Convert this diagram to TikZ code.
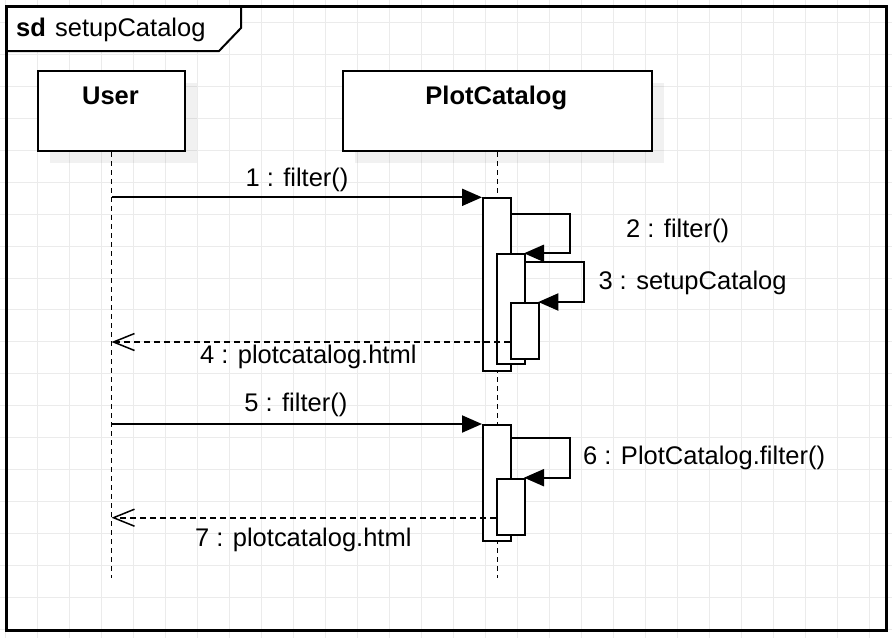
\documentclass[tikz,border=0pt]{standalone}
\usepackage{fontspec}
\setmainfont{Liberation Sans}
\usetikzlibrary{arrows.meta}
\definecolor{gridgray}{HTML}{EBEBEB}
\begin{document}
\begin{tikzpicture}[x=1pt,y=-1pt,
  every node/.style={font=\fontsize{25.5}{30}\selectfont, inner sep=0pt},
  gridline/.style={draw=gridgray, line width=1pt},
  headbox/.style={draw=black, fill=white, line width=2pt, rectangle, inner sep=0pt, anchor=north west},
  shadowbox/.style={fill=black, fill opacity=0.055, draw=none},
  actbox/.style={draw=black, fill=white, line width=2pt, rectangle, inner sep=0pt, minimum width=28.3pt, anchor=north west},
  lifeline/.style={draw=black, line width=1.6pt, dash pattern=on 5pt off 4pt},
  msg/.style={draw=black, line width=2pt, -{Triangle[length=20pt,width=17pt]}},
  reply/.style={draw=black, line width=1.6pt, dash pattern=on 6pt off 4pt, -{Straight Barb[length=21pt,width=17pt,line width=1.5pt]}},
  msglabel/.style={inner sep=0pt, anchor=base},
  headtext/.style={font=\fontsize{25.5}{30}\selectfont\bfseries, anchor=base},
]
\useasboundingbox (0,0) rectangle (892,638);
\fill[white] (0,0) rectangle (892,638);
% grid
\foreach \i in {0,...,27} \draw[gridline] ({5.3+32*\i},0) -- ({5.3+32*\i},638);
\foreach \j in {0,...,19} \draw[gridline] (0,{22.6+31.93*\j}) -- (892,{22.6+31.93*\j});
% title tab
\draw[line width=2pt, fill=white] (6,6) -- (241,6) -- (241,28) -- (219,51) -- (6,51) -- cycle;
\draw[line width=3pt] (6,6) rectangle (886,630);
\node[headtext, anchor=base west] (sd) at (16,36) {sd};
\node[anchor=base west] (title) at (55,36) {setupCatalog};
% shadows
\fill[shadowbox] (50,83) rectangle (197,163);
\fill[shadowbox] (355,83) rectangle (664,163);
% heads
\node[headbox, minimum width=147pt, minimum height=80.5pt] (user) at (37,69.5) {};
\node[headbox, minimum width=309.3pt, minimum height=80.5pt] (plot) at (341.7,69.5) {};
\node[headtext] (usert) at (110.5,104.3) {User};
\node[headtext] (plott) at (496.3,104.3) {PlotCatalog};
% lifelines
\coordinate (lifeend) at (0,578);
\draw[lifeline] (user.south) -- (user.south |- lifeend);
\draw[lifeline] (plot.south) -- (plot.south |- lifeend);
% first call
\node[actbox, minimum height=172.7pt] (a1) at (482,197.3) {};
\draw[msg] (user.south |- a1.north west) -- (a1.north west);
\node[msglabel] (l1) at (297,186.7) {1 : filter()};
\draw[msg] (a1.north east |- 0,214) -- (570,214) -- (570,253.3) -- (495.7+28.3,253.3);
\node[actbox, minimum height=110pt] (a2) at (495.7,253.3) {};
\node[msglabel, anchor=base west] (l2) at (626,237.3) {2 : filter()};
\draw[msg] (a2.north east |- 0,261.7) -- (584,261.7) -- (584,302) -- (538.3,302);
\node[actbox, minimum height=55.7pt] (a3) at (510,302) {};
\node[msglabel, anchor=base west] (l3) at (598.3,289.3) {3 : setupCatalog};
\draw[reply] (a3.west |- 0,342) -- (user.south |- 0,342);
\node[msglabel] (l4) at (308.3,363.5) {4 : plotcatalog.html};
% second call
\node[actbox, minimum height=116pt] (a4) at (482,424) {};
\draw[msg] (user.south |- a4.north west) -- (a4.north west);
\node[msglabel] (l5) at (295.8,411.7) {5 : filter()};
\draw[msg] (a4.north east |- 0,437.7) -- (570,437.7) -- (570,477.7) -- (524,477.7);
\node[actbox, minimum height=56.3pt] (a5) at (495.7,477.7) {};
\node[msglabel, anchor=base west] (l6) at (583,464) {6 : PlotCatalog.filter()};
\draw[reply] (a5.west |- 0,517.7) -- (user.south |- 0,517.7);
\node[msglabel] (l7) at (303.3,546.7) {7 : plotcatalog.html};
\end{tikzpicture}
\end{document}
